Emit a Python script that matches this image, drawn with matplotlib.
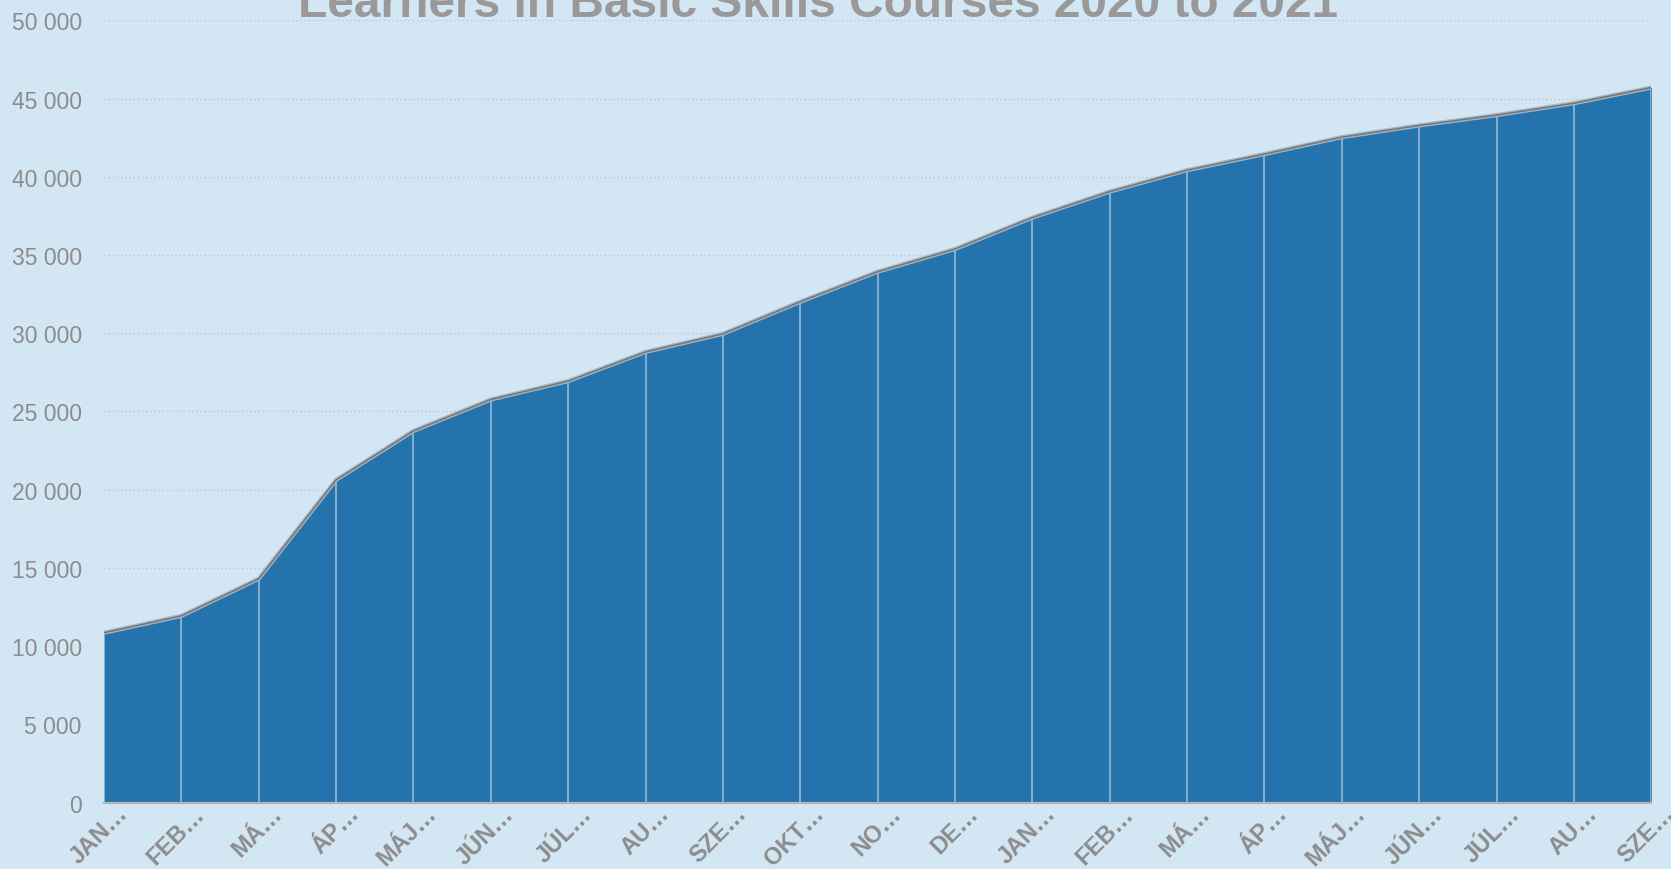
import matplotlib.pyplot as plt
import matplotlib.transforms as mtransforms
import numpy as np

# months of 2020 and 2021 (truncated labels as they appear in the chart)
months = ['JAN…', 'FEB…', 'MÁ…', 'ÁP…', 'MÁJ…', 'JÚN…', 'JÚL…', 'AU…', 'SZE…',
          'OKT…', 'NO…', 'DE…', 'JAN…', 'FEB…', 'MÁ…', 'ÁP…', 'MÁJ…', 'JÚN…',
          'JÚL…', 'AU…', 'SZE…']
learners = [10850, 11930, 14300, 20620, 23750, 25760, 26940, 28800, 29960,
            32010, 33930, 35380, 37390, 39050, 40420, 41450, 42530, 43280,
            43940, 44700, 45700]
yticks = list(range(0, 50001, 5000))
ytick_labels = ['0' if v == 0 else f'{v // 1000} 000' for v in yticks]
title = 'Learners in Basic Skills Courses 2020 to 2021'

bg = '#d2e6f4'
area_color = '#2473ad'
text_gray = '#8c8c8c'

fig = plt.figure(figsize=(16.71, 8.70), dpi=100, facecolor=bg)
ax = fig.add_axes([0.0622, 0.0764, 0.926, 0.8991])
ax.set_facecolor(bg)

x = np.arange(len(learners))
ax.fill_between(x, 0, learners, color=area_color, lw=0, zorder=2)
# light drop lines inside the area
ax.vlines(x, 0, learners, color='#8fb3d3', lw=1.3, zorder=3)
# top edge of the area
ax.plot(x, learners, color='#a9b4bd', lw=3.0, zorder=4, solid_capstyle='butt')
ax.plot(x, learners, color='#6d7780', lw=1.1, zorder=5, solid_capstyle='butt')
# bottom axis line
ax.plot([x[0], x[-1]], [0, 0], color='#b3b3b3', lw=1.6, zorder=6, clip_on=False)

ax.set_xlim(x[0], x[-1])
ax.set_ylim(0, 50000)
ax.set_yticks(yticks)
ax.set_yticklabels(ytick_labels, fontsize=16.5, color=text_gray,
                   family=['Liberation Sans', 'DejaVu Sans'])
ax.yaxis.grid(True, color='#b9c4cc', ls=(0, (1, 2)), lw=1.0, zorder=1)
ax.set_axisbelow(True)
ax.tick_params(axis='y', length=0, pad=16)

ax.set_xticks(x)
ax.set_xticklabels(months, rotation=45, ha='right', va='top', fontsize=17,
                   fontweight='bold', color=text_gray,
                   family=['Liberation Sans', 'DejaVu Sans'])
ax.tick_params(axis='x', length=0, pad=0)
offset = mtransforms.ScaledTranslation(28 / 100, 1 / 100, fig.dpi_scale_trans)
for lbl in ax.get_xticklabels():
    lbl.set_transform(lbl.get_transform() + offset)

for s in ax.spines.values():
    s.set_visible(False)

# title, partly cut at the top edge like the original
t = fig.text(818 / 1671, 1 - 17 / 870, title, ha='center', va='baseline',
             fontsize=40, fontweight='bold', color='#999999',
             family=['Liberation Sans Narrow', 'Liberation Sans', 'DejaVu Sans'])
fig.canvas.draw()
w = t.get_window_extent().width
t.set_fontsize(40 * 1039 / w)

fig.savefig('out.png', dpi=100, facecolor=bg)
